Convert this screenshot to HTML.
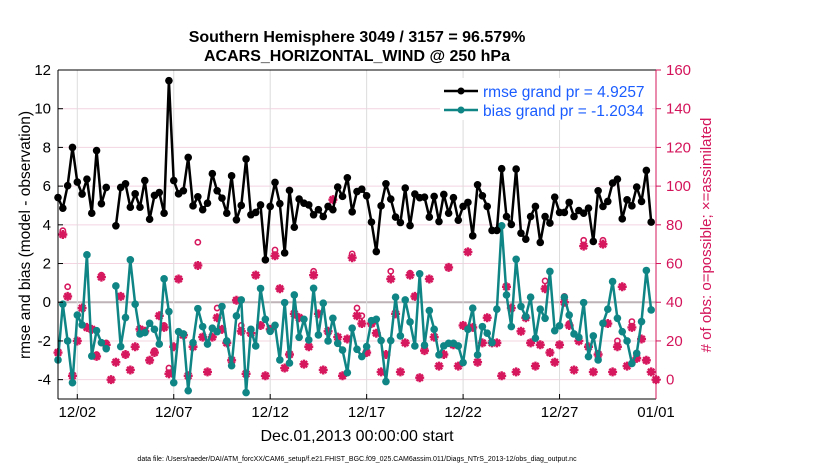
<!DOCTYPE html>
<html><head><meta charset="utf-8"><style>
body{margin:0;background:#fff;}
svg text{font-family:"Liberation Sans",Arial,sans-serif;}
</style></head><body>
<svg id="chart" width="830" height="470" xmlns="http://www.w3.org/2000/svg">
<g id="grid"></g>
<g id="marks"></g>
<g id="axes"></g>
<text x="357" y="42" text-anchor="middle" font-size="16" font-weight="bold">Southern Hemisphere 3049 / 3157 = 96.579%</text>
<text x="357" y="61" text-anchor="middle" font-size="16" font-weight="bold">ACARS_HORIZONTAL_WIND @ 250 hPa</text>
<text transform="translate(30,235) rotate(-90)" text-anchor="middle" font-size="15.5">rmse and bias (model - observation)</text>
<text transform="translate(711,235) rotate(-90)" text-anchor="middle" font-size="15" fill="#d4145a"># of obs: o=possible; ×=assimilated</text>
<text x="357" y="441" text-anchor="middle" font-size="16">Dec.01,2013 00:00:00 start</text>
<text x="357" y="461" text-anchor="middle" font-size="7">data file: /Users/raeder/DAI/ATM_forcXX/CAM6_setup/f.e21.FHIST_BGC.f09_025.CAM6assim.011/Diags_NTrS_2013-12/obs_diag_output.nc</text>
<g>
<rect x="440" y="78" width="212" height="42" fill="#fff"/>
<line x1="444" y1="91" x2="478" y2="91" stroke="#000" stroke-width="2.5"/>
<circle cx="461" cy="91" r="3.5" fill="#000"/>
<text x="483" y="97" font-size="15.5" fill="#1a5cff">rmse grand pr = 4.9257</text>
<line x1="444" y1="110" x2="478" y2="110" stroke="#108585" stroke-width="2.5"/>
<circle cx="461" cy="110" r="3.5" fill="#108585"/>
<text x="483" y="116" font-size="15.5" fill="#1a5cff">bias grand pr = -1.2034</text>
</g>
</svg>
<script>
const N=null;
const rmse=[5.41,4.86,6.02,8.0,6.21,5.59,6.36,4.6,7.84,5.09,5.93,N,3.95,5.93,6.12,4.91,5.6,4.91,6.29,4.29,5.52,5.67,4.6,11.45,6.29,5.6,5.76,7.48,4.98,5.45,4.78,5.12,6.64,5.76,5.38,4.6,6.53,4.26,5.0,7.4,4.52,4.64,5.03,2.19,4.95,6.19,5.09,2.55,5.78,3.88,5.33,5.12,5.03,4.52,4.78,4.43,4.95,4.78,5.95,5.47,6.43,4.67,5.72,5.84,5.5,4.14,2.62,4.98,6.12,5.33,4.4,4.12,5.9,3.96,5.59,5.4,5.43,4.4,5.47,4.17,5.57,4.6,5.4,4.24,4.95,5.16,3.43,6.07,5.5,4.95,3.71,3.71,6.9,4.43,4.02,6.88,3.57,3.26,4.43,4.95,3.09,4.43,4.09,5.43,4.64,4.64,5.16,4.43,4.74,4.6,4.86,3.14,5.76,4.95,5.21,6.16,6.36,4.31,5.29,4.98,5.95,5.21,6.81,4.14,N];
const bias=[-2.98,-0.1,-2.0,-4.16,-0.66,-1.17,2.45,-2.78,-1.47,-2.09,-2.4,N,0.84,-2.29,-0.79,2.19,-0.1,-1.64,-1.57,-1.09,-1.4,-2.16,1.21,-0.48,-4.16,-1.52,-1.64,-4.57,-2.09,-0.33,-1.26,-2.16,-1.34,-1.52,-0.22,-2.0,-3.28,-0.71,0.12,-4.67,-1.4,-2.26,0.71,-0.88,-1.5,-1.19,-2.98,-0.02,-3.14,0.38,-1.81,-0.88,-1.95,0.72,-1.69,-0.05,-2.0,-0.83,-2.12,-2.47,-3.64,-1.34,-2.43,-2.81,-2.29,-0.95,-0.88,-1.98,-4.1,-1.98,0.26,-1.74,0.12,-1.02,-2.26,1.47,-2.22,-0.43,-1.4,-2.72,-2.26,-2.12,-2.12,-2.26,-3.12,-1.4,-0.31,-2.72,-1.26,-1.6,-2.09,-0.36,3.95,0.38,-1.26,2.22,-0.22,-0.74,0.26,-1.86,-0.36,-0.83,1.59,-1.47,-1.22,0.26,-0.66,-1.64,-1.81,-0.02,-2.81,-1.74,-2.98,-1.09,-0.36,1.07,-0.83,-1.52,-2.0,-3.16,-2.64,-1.0,1.64,-0.4,N];
const assimilated=[14,75,43,2,20,37,27,26,12,53,18,0,9,43,13,5,17,26,25,10,14,33,27,3,17,52,23,2,17,59,22,4,22,32,26,19,10,41,25,3,24,54,28,2,26,64,47,6,13,34,32,8,17,54,34,5,25,93,22,2,21,63,33,29,14,29,24,4,13,52,34,4,19,54,43,1,15,52,22,7,13,58,18,7,28,66,27,9,19,32,19,19,2,48,37,4,25,32,19,7,18,47,14,9,18,40,28,5,20,69,17,4,13,70,29,4,17,48,7,27,11,21,10,4,0];
const possible=[14,77,48,2,20,37,27,26,13,54,19,0,9,43,13,5,17,26,25,10,15,33,28,6,17,52,23,2,17,71,22,4,22,37,26,19,10,41,28,3,24,54,28,2,26,67,47,6,13,34,32,8,17,56,34,5,25,93,22,2,21,65,37,33,14,29,24,4,13,56,34,4,19,55,43,1,17,52,22,7,13,58,18,7,28,66,27,9,19,32,19,19,2,48,37,4,25,32,19,7,18,51,14,9,18,43,29,5,20,72,17,4,13,72,29,4,20,48,7,30,11,21,10,4,0];
const yTicks=[-4,-2,0,2,4,6,8,10,12];
const rTicks=[0,20,40,60,80,100,120,140,160];
const xTickDays=[1,6,11,16,21,26,31];
const xTickLabels=["12/02","12/07","12/12","12/17","12/22","12/27","01/01"];

const X0=58,X1=656,Y0=399,Y1=70,YMIN=-5,YMAX=12,DAYS=31;
const xS=i=>X0+(i/4)*(X1-X0)/DAYS;
const xD=d=>X0+d*(X1-X0)/DAYS;
const yS=v=>Y0-(v-YMIN)*(Y0-Y1)/(YMAX-YMIN);
const yR=c=>yS(c/10-4);
const NS='http://www.w3.org/2000/svg';
function mk(parent,tag,at){const e=document.createElementNS(NS,tag);for(const k in at)e.setAttribute(k,at[k]);parent.appendChild(e);return e;}
const grid=document.getElementById('grid'),marks=document.getElementById('marks'),axes=document.getElementById('axes');
mk(grid,'rect',{x:X0,y:Y1,width:X1-X0,height:Y0-Y1,fill:'#fff'});
yTicks.forEach(t=>{const l=mk(grid,'line',{x1:X0,x2:X1,y1:yS(t),y2:yS(t),stroke:t===0?'#bfb4b8':'#f3d4e0','stroke-width':t===0?2:1});


const tx=mk(axes,'text',{x:X0-7,y:yS(t)+5,'text-anchor':'end','font-size':15});tx.textContent=t;


mk(axes,'line',{x1:X0,x2:X0+5,y1:yS(t),y2:yS(t),stroke:'#000'});});
xTickDays.forEach((d,k)=>{const l=mk(grid,'line',{x1:xD(d),x2:xD(d),y1:Y1,y2:Y0,stroke:'#dcdcdc','stroke-width':1});


mk(axes,'line',{x1:xD(d),x2:xD(d),y1:Y0,y2:Y0-5,stroke:'#000'});
const tx=mk(axes,'text',{x:xD(d),y:Y0+18,'text-anchor':'middle','font-size':15});tx.textContent=xTickLabels[k];

});
rTicks.forEach(t=>{mk(axes,'line',{x1:X1,x2:X1+5,y1:yR(t),y2:yR(t),stroke:'#d4145a'});
const tx=mk(axes,'text',{x:X1+10,y:yR(t)+5,'font-size':15,fill:'#d4145a'});tx.textContent=t;

});
mk(axes,'line',{x1:X0,x2:X0,y1:Y1,y2:Y0,stroke:'#000'});
mk(axes,'line',{x1:X0,x2:X1,y1:Y0,y2:Y0,stroke:'#000'});
mk(axes,'line',{x1:X0,x2:X1,y1:Y1,y2:Y1,stroke:'#000'});
mk(axes,'line',{x1:X1,x2:X1,y1:Y1,y2:Y0,stroke:'#d4145a'});

const pink='#d6185e';
assimilated.forEach((c,i)=>{if(c==null)return;const x=xS(i),y=yR(c);
const g=mk(marks,'path',{d:`M${x-4.5},${y}H${x+4.5}M${x},${y-4.5}V${y+4.5}M${x-3.2},${y-3.2}L${x+3.2},${y+3.2}M${x-3.2},${y+3.2}L${x+3.2},${y-3.2}`,stroke:pink,'stroke-width':2.4});

});
possible.forEach((c,i)=>{if(c==null)return;
const e=mk(marks,'circle',{cx:xS(i),cy:yR(c),r:2.6,fill:'none',stroke:pink,'stroke-width':1.6});

});
function series(arr,color,name){let d='';let pen=false;
arr.forEach((v,i)=>{if(v==null){pen=false;return;}d+=(pen?'L':'M')+xS(i).toFixed(1)+','+yS(v).toFixed(1);pen=true;});
const p=mk(marks,'path',{d:d,fill:'none',stroke:color,'stroke-width':2.5,'stroke-linejoin':'round'});


arr.forEach((v,i)=>{if(v==null)return;const c=mk(marks,'circle',{cx:xS(i),cy:yS(v),r:3.8,fill:color});

});}
series(bias,'#108585','bias');
series(rmse,'#000','rmse');
</script>
</body></html>
